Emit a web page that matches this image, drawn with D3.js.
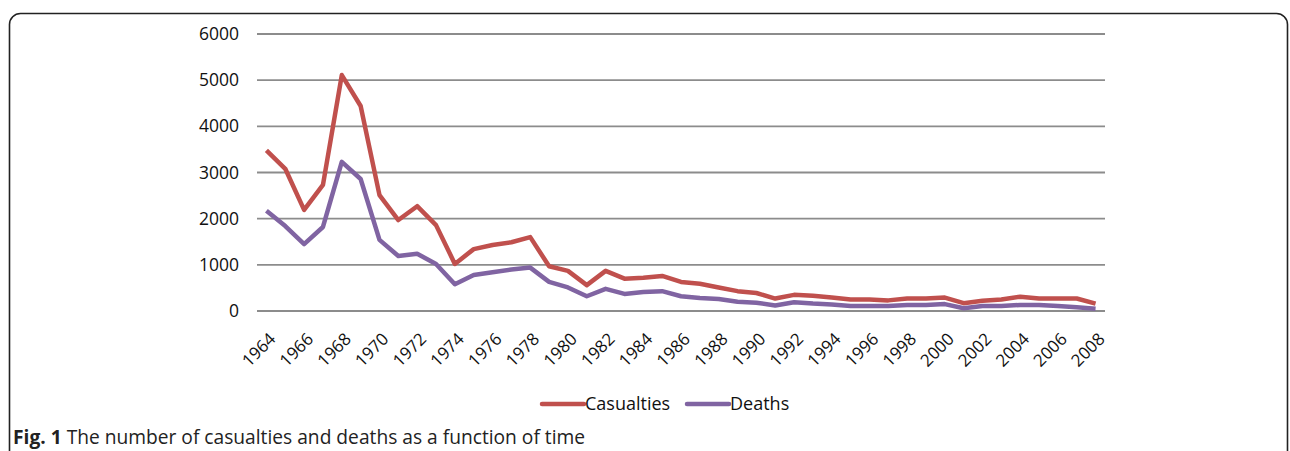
<!DOCTYPE html>
<html>
<head>
<meta charset="utf-8">
<script src="https://cdn.jsdelivr.net/npm/d3@7"></script>
<style>
  html, body { margin: 0; padding: 0; background: #fff; overflow: hidden; }
  svg { display: block; }
</style>
</head>
<body>
<svg id="chart" width="1290" height="451"></svg>
<script>
// Data
const YEARS = d3.range(1964, 2009);
const CASUALTIES = [3480, 3080, 2190, 2730, 5110, 4440, 2510, 1970, 2270, 1860,
  1020, 1340, 1430, 1490, 1600, 970, 870, 560, 870, 700,
  720, 760, 630, 590, 510, 430, 390, 270, 350, 330,
  290, 250, 250, 230, 270, 270, 290, 170, 220, 250,
  310, 270, 270, 270, 160];
const DEATHS = [2170, 1840, 1450, 1820, 3230, 2860, 1540, 1190, 1240, 1020,
  580, 780, 840, 900, 940, 630, 510, 320, 480, 370,
  410, 430, 320, 280, 260, 200, 180, 120, 190, 160,
  140, 110, 110, 110, 130, 130, 150, 60, 110, 110,
  130, 130, 110, 80, 50];
const Y_TICKS = [0, 1000, 2000, 3000, 4000, 5000, 6000];
const SERIES = [
  { name: "Casualties", values: CASUALTIES, color: "#c0504d" },
  { name: "Deaths",     values: DEATHS,     color: "#8064a2" }
];

const svg = d3.select("#chart");
const FONT = "'Open Sans', sans-serif";

// frame around figure
svg.append("rect")
  .attr("x", 9.5).attr("y", 13.5)
  .attr("width", 1278).attr("height", 480)
  .attr("rx", 11).attr("ry", 11)
  .attr("fill", "none").attr("stroke", "#222").attr("stroke-width", 1.6);

const plotL = 257, plotR = 1105, plotT = 34, plotB = 311;

const x = d3.scaleBand().domain(YEARS).range([plotL, plotR]);
const y = d3.scaleLinear().domain([0, 6000]).range([plotB, plotT]);

// gridlines
svg.append("g")
  .selectAll("line")
  .data(Y_TICKS)
  .join("line")
  .attr("x1", plotL).attr("x2", plotR)
  .attr("y1", d => y(d)).attr("y2", d => y(d))
  .attr("stroke", "#8c8c8c").attr("stroke-width", 1.8);

// y axis labels
svg.append("g")
  .selectAll("text")
  .data(Y_TICKS)
  .join("text")
  .attr("x", 239).attr("y", d => y(d))
  .attr("dy", "0.35em")
  .attr("text-anchor", "end")
  .style("font-family", FONT).style("font-size", "17.5px").style("fill", "#111")
  .text(d => d);

// x axis labels, every other year, rotated
svg.append("g")
  .selectAll("text")
  .data(YEARS.filter((d, i) => i % 2 === 0))
  .join("text")
  .attr("transform", d => `translate(${x(d) + x.bandwidth() / 2 + 6},${plotB + 25}) rotate(-45)`)
  .attr("text-anchor", "end")
  .attr("dy", "0.35em")
  .style("font-family", FONT).style("font-size", "17px").style("fill", "#111")
  .text(d => d);

const line = d3.line()
  .x((d, i) => x(YEARS[i]) + x.bandwidth() / 2)
  .y(d => y(d));

SERIES.forEach(s => {
  svg.append("path")
    .datum(s.values)
    .attr("fill", "none")
    .attr("stroke", s.color)
    .attr("stroke-width", 4.5)
    .attr("stroke-linejoin", "round")
    .attr("d", line);
});

// legend
const legend = svg.append("g").attr("transform", "translate(542,404)");
const legX = [0, 145];
SERIES.forEach((s, i) => {
  const g = legend.append("g").attr("transform", `translate(${legX[i]},0)`);
  g.append("line")
    .attr("x1", 0).attr("x2", 42).attr("y1", 0).attr("y2", 0)
    .attr("stroke", s.color).attr("stroke-width", 4.5).attr("stroke-linecap", "round");
  g.append("text")
    .attr("x", 43).attr("dy", "0.35em")
    .style("font-family", FONT).style("font-size", "18px").style("fill", "#111")
    .text(s.name);
});

// caption
const cap = svg.append("text")
  .attr("x", 13).attr("y", 444)
  .style("font-family", "'Open Sans', sans-serif").style("font-size", "19.2px").style("fill", "#222");
cap.append("tspan").style("font-weight", "bold").text("Fig. 1");
cap.append("tspan").text(" The number of casualties and deaths as a function of time");
</script>
</body>
</html>
